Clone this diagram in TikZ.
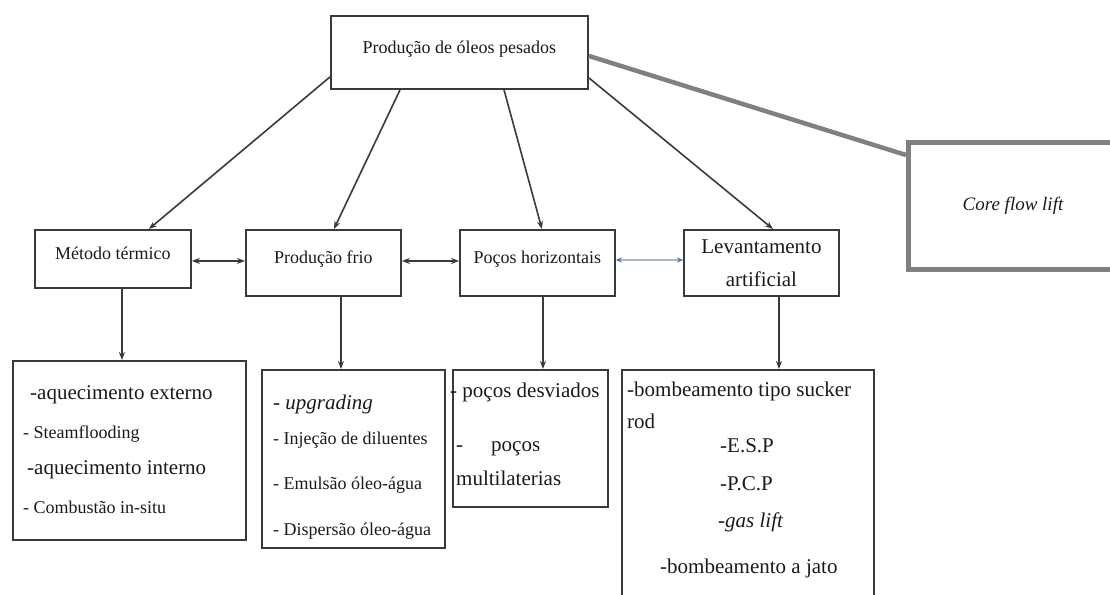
\documentclass[tikz,border=0pt]{standalone}
\usepackage{fontspec}
\setmainfont{Liberation Serif}
\usepackage{xcolor}
\usepackage{tikz}
\usetikzlibrary{calc, positioning, arrows.meta}
\definecolor{LineGray}{HTML}{3A3A3A}
\definecolor{TextDark}{HTML}{1A1A1A}
\definecolor{CoreGray}{HTML}{808080}
\definecolor{BlueLine}{HTML}{A9B8CC}
\definecolor{BlueHead}{HTML}{4F6FA0}

\begin{document}
\begin{tikzpicture}[
  x=1pt, y=-1pt,
  box/.style={rectangle, draw=LineGray, line width=1.9pt, inner sep=0pt, anchor=north west, text=TextDark, font=\fontsize{18}{22}\selectfont},
  rowbox/.style={box, minimum width=155pt, minimum height=66pt, text height=13pt, text depth=12pt},
  listbox/.style={box},
  itembig/.style={anchor=base west, inner sep=0pt, text=TextDark, font=\fontsize{21}{25}\selectfont},
  itemsmall/.style={anchor=base west, inner sep=0pt, text=TextDark, font=\fontsize{18}{22}\selectfont},
  arrow/.style={-{Stealth[length=8pt,width=6pt]}, line width=1.6pt, LineGray},
  biarrow/.style={{Stealth[length=8pt,width=6pt]}-{Stealth[length=8pt,width=6pt]}, line width=1.6pt, LineGray}
]
  \useasboundingbox (0,0) rectangle (1110,594);

  % top and second row
  \node[box, minimum width=257pt, minimum height=73pt, text height=13pt, text depth=10pt] (prod) at (330,15) {Produção de óleos pesados};
  \node[rowbox, minimum width=156pt, minimum height=58pt] (metodo) at (34,229) {Método térmico};
  \node[rowbox] (frio) at (245,229) {Produção frio};
  \node[rowbox] (pocos) at (459,229) {Poços horizontais};
  \node[rowbox, text height=, text depth=, align=center, font=\fontsize{21}{33}\selectfont] (lev) at (683,229) {Levantamento\\artificial};
  \node[box, draw=CoreGray, line width=5pt, minimum width=209pt, minimum height=127pt, font=\fontsize{19}{23}\selectfont\itshape] (core) at (906,140) {Core flow lift};

  % lists
  \node[listbox, minimum width=233pt, minimum height=179pt] (termList) at (12,360) {};
  \node[listbox, minimum width=183pt, minimum height=178pt] (frioList) at (261,369) {};
  \node[listbox, minimum width=155pt, minimum height=137pt] (pocosList) at (452,369) {};
  \node[listbox, minimum width=252pt, minimum height=260pt] (levList) at (621,369) {};

  \node[itembig] (t1) at (30,399) {-aquecimento externo};
  \node[itemsmall] (t2) at (23,438) {- Steamflooding};
  \node[itembig] (t3) at (27,474) {-aquecimento interno};
  \node[itemsmall] (t4) at (23,513) {- Combustão in-situ};

  \node[itembig] (f1) at (273,409) {- \textit{upgrading}};
  \node[itemsmall] (f2) at (273,444) {- Injeção de diluentes};
  \node[itemsmall] (f3) at (273,489) {- Emulsão óleo-água};
  \node[itemsmall] (f4) at (273,535) {- Dispersão óleo-água};

  \node[itembig] (p1) at (450,397) {- poços desviados};
  \node[itembig] (p2) at (456,451) {-\hspace*{28pt}poços};
  \node[itembig] (p3) at (456,485) {multilaterias};

  \node[itembig] (a1) at (627,396) {-bombeamento tipo sucker};
  \node[itembig] (a2) at (627,428) {rod};
  \node[itembig] (a3) at (720,452) {-E.S.P};
  \node[itembig] (a4) at (720,490) {-P.C.P};
  \node[itembig] (a5) at (718,527) {-\textit{gas lift}};
  \node[itembig] (a6) at (660,573) {-bombeamento a jato};

  % connectors
  \draw[arrow] ([yshift=13pt]prod.south west) -- ([xshift=36pt]metodo.north);
  \draw[arrow] ([xshift=70pt]prod.south west) -- ([xshift=10.5pt]frio.north);
  \draw[arrow] ([xshift=174pt]prod.south west) -- ([xshift=4.5pt]pocos.north);
  \draw[arrow] ([yshift=12pt]prod.south east) -- ([xshift=11.5pt]lev.north);
  \draw[CoreGray, line width=4.5pt] ([yshift=-3.5pt]prod.east) -- ([yshift=-15pt]core.north west);

  \draw[biarrow] ([yshift=-2pt]metodo.east) -- ([yshift=-2pt]metodo.east -| frio.west);
  \draw[biarrow] ([yshift=2pt]frio.east) -- ([yshift=2pt]frio.east -| pocos.west);
  \draw[{Stealth[length=6pt,width=5pt,color=BlueHead]}-{Stealth[length=6pt,width=5pt,color=BlueHead]}, line width=1.2pt, BlueLine] ([yshift=3pt]pocos.east) -- ([yshift=3pt]pocos.east -| lev.west);

  \draw[arrow] ([xshift=9pt]metodo.south) -- ([xshift=9pt]metodo.south |- termList.north);
  \draw[arrow] ([xshift=17.5pt]frio.south) -- ([xshift=17.5pt]frio.south |- frioList.north);
  \draw[arrow] ([xshift=5.5pt]pocos.south) -- ([xshift=5.5pt]pocos.south |- pocosList.north);
  \draw[arrow] ([xshift=17.5pt]lev.south) -- ([xshift=17.5pt]lev.south |- levList.north);
\end{tikzpicture}
\end{document}
